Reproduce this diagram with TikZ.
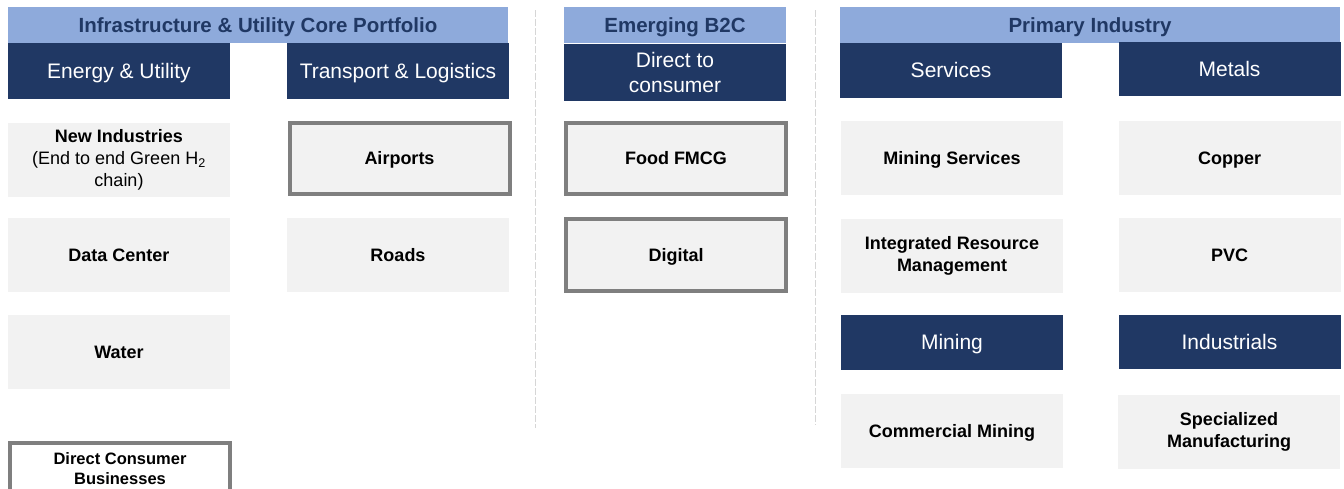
\documentclass[tikz,border=0pt]{standalone}
\usepackage{fontspec}
\setmainfont{Liberation Sans}
\definecolor{navy}{HTML}{203864}
\definecolor{skyband}{HTML}{8EAADB}
\definecolor{cellgray}{HTML}{F2F2F2}
\definecolor{framegray}{HTML}{7F7F7F}
\definecolor{sepgray}{HTML}{D6D6D6}
\tikzset{
    group-title/.style = {fill=skyband, text=navy, font=\bfseries\fontsize{20.5}{24}\selectfont, inner sep=0pt, minimum height=36pt, text height=18.5pt, text depth=4.35pt},
    sector-box/.style = {fill=navy, text=white, font=\fontsize{21}{25}\selectfont, inner sep=0pt, minimum width=222pt, minimum height=56pt, align=center, text height=19pt, text depth=4.45pt},
    cell-box/.style = {fill=cellgray, font=\bfseries\fontsize{18}{22}\selectfont, inner sep=0pt, minimum width=222pt, minimum height=74pt, align=center, text height=16.3pt, text depth=3.8pt},
    framed-box/.style = {cell-box, draw=framegray, line width=4pt, minimum width=220pt, minimum height=71pt},
    multi-line/.style = {text height=, text depth=, yshift=-2pt},
    separator/.style = {draw=sepgray, line width=1pt, dash pattern=on 7pt off 2pt},
}

\begin{document}
\begin{tikzpicture}[x=1pt, y=-1pt]
\useasboundingbox (0,0) rectangle (1344,488);
% core portfolio
\node[group-title, minimum width=500pt] (core) at (258,25) {Infrastructure \& Utility Core Portfolio};
\node[sector-box] (energy) at (119,71) {Energy \& Utility};
\node[sector-box] (transport) at (398,71) {Transport \& Logistics};
\node[cell-box, multi-line] (newind) at (119,158) {New Industries\\{\mdseries(End to end Green H\textsubscript{2}}\\{\mdseries chain)}};
\node[framed-box] (airports) at (399.5,158.5) {Airports};
\node[cell-box] (datacenter) at (119,255) {Data Center};
\node[cell-box] (roads) at (398,255) {Roads};
\node[cell-box] (water) at (119,352) {Water};
\node[framed-box, multi-line, fill=white, minimum height=52pt, font=\bfseries\fontsize{16.5}{20}\selectfont] (dcb) at (120,467) {Direct Consumer\\Businesses};
\draw[separator] (535,10) -- (535,428);
% emerging b2c
\node[group-title, minimum width=222pt] (b2c) at (675,25) {Emerging B2C};
\node[sector-box, multi-line, minimum height=57pt] (d2c) at (675,70.5) {Direct to\\consumer};
\node[framed-box] (food) at (676,158.5) {Food FMCG};
\node[framed-box, minimum height=72pt] (digital) at (676,255) {Digital};
\draw[separator] (815,10) -- (815,425);
% primary industry
\node[group-title, minimum width=500pt] (primary) at (1090,25) {Primary Industry};
\node[sector-box, minimum height=55pt] (services) at (951,70.5) {Services};
\node[sector-box, minimum height=54pt] (metals) at (1229.5,69) {Metals};
\node[cell-box] (miningserv) at (952,158) {Mining Services};
\node[cell-box] (copper) at (1229.5,158) {Copper};
\node[cell-box, multi-line] (irm) at (952,254) {Integrated Resource\\Management};
\node[cell-box] (pvc) at (1229.5,255) {PVC};
\node[sector-box, minimum height=55pt] (mining) at (952,342.5) {Mining};
\node[sector-box, minimum height=54pt] (industrials) at (1229.5,342) {Industrials};
\node[cell-box] (commining) at (952,431) {Commercial Mining};
\node[cell-box, multi-line] (specman) at (1229,430) {Specialized\\Manufacturing};
\end{tikzpicture}
\end{document}
